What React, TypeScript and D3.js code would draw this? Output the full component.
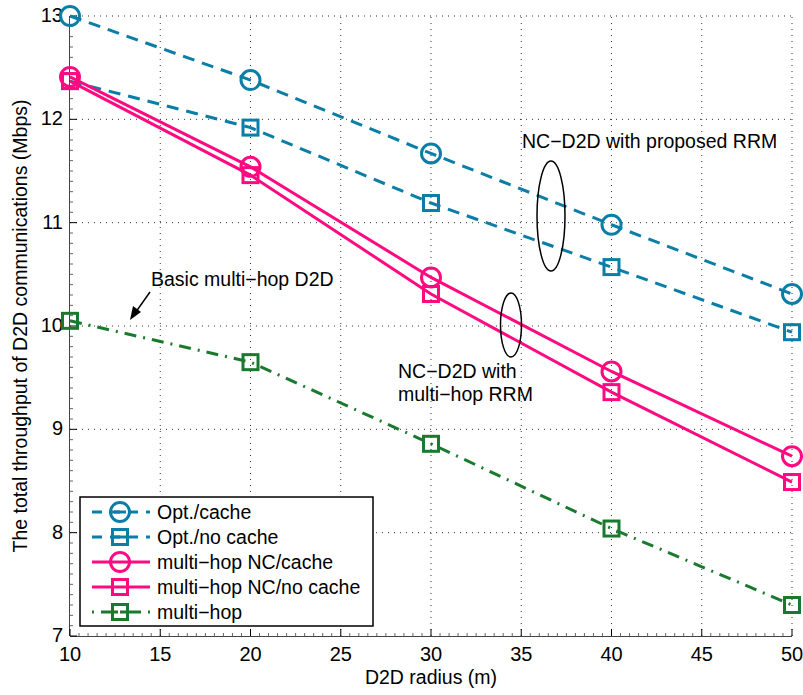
import React, { useEffect, useRef } from "react";
import * as d3 from "d3";

const radius = [10, 20, 30, 40, 50];
const optCache = [13.0, 12.38, 11.67, 10.98, 10.31];
const optNoCache = [12.37, 11.92, 11.19, 10.57, 9.94];
const nhCache = [12.41, 11.54, 10.47, 9.56, 8.74];
const nhNoCache = [12.37, 11.46, 10.31, 9.36, 8.49];
const multiHop = [10.05, 9.65, 8.86, 8.04, 7.3];
const xTicks = [10, 15, 20, 25, 30, 35, 40, 45, 50];
const yTicks = [7, 8, 9, 10, 11, 12, 13];

const BLUE = "#0a7ea6";
const PINK = "#ff0a80";
const GREEN = "#197a2e";

const series = [
  { name: "Opt./cache", values: optCache, color: BLUE, dash: "12,8", marker: "circle" },
  { name: "Opt./no cache", values: optNoCache, color: BLUE, dash: "12,8", marker: "square" },
  { name: "multi\u2212hop NC/cache", values: nhCache, color: PINK, dash: null, marker: "circle" },
  { name: "multi\u2212hop NC/no cache", values: nhNoCache, color: PINK, dash: null, marker: "square" },
  { name: "multi\u2212hop", values: multiHop, color: GREEN, dash: "12,7,2,7", marker: "square" },
];

const W = 803;
const H = 695;
const m = { left: 70, right: 11, top: 16, bottom: 59 };
const FONT = "Liberation Sans, Arial, sans-serif";
const FS = 19.5;

const App = () => {
  const ref = useRef(null);

  useEffect(() => {
    const svg = d3.select(ref.current);
    svg.selectAll("*").remove();
    const x = d3.scaleLinear().domain([10, 50]).range([m.left, W - m.right]);
    const y = d3.scaleLinear().domain([7, 13]).range([H - m.bottom, m.top]);

    // grid
    const grid = svg.append("g").attr("stroke", "#333").attr("stroke-width", 1).attr("stroke-dasharray", "1,5");
    xTicks.slice(1).forEach(t => {
      grid.append("line").attr("x1", x(t)).attr("x2", x(t)).attr("y1", y(7)).attr("y2", y(13));
    });
    yTicks.slice(1).forEach(t => {
      grid.append("line").attr("x1", x(10)).attr("x2", x(50)).attr("y1", y(t)).attr("y2", y(t));
    });

    // axes
    const ax = svg.append("g").attr("stroke", "#444").attr("stroke-width", 1);
    ax.append("line").attr("x1", x(10)).attr("x2", x(50)).attr("y1", y(7) + 0.5).attr("y2", y(7) + 0.5);
    ax.append("line").attr("x1", x(10) - 0.5).attr("x2", x(10) - 0.5).attr("y1", y(7)).attr("y2", y(13));
    d3.range(10, 50.01, 0.5).forEach(t => {
      const major = Math.abs(t % 5) < 1e-6;
      ax.append("line").attr("x1", x(t)).attr("x2", x(t)).attr("y1", y(7)).attr("y2", y(7) - (major ? 7 : 3))
        .attr("stroke", major ? "#000" : "#666");
    });
    d3.range(7, 13.001, 0.1).forEach(t => {
      const major = Math.abs(t - Math.round(t)) < 1e-6;
      ax.append("line").attr("x1", x(10)).attr("x2", x(10) + (major ? 7 : 3)).attr("y1", y(t)).attr("y2", y(t))
        .attr("stroke", major ? "#000" : "#666");
    });

    const txt = svg.append("g").attr("font-family", FONT).attr("fill", "#000");
    xTicks.forEach(t => {
      txt.append("text").attr("x", x(t)).attr("y", y(7) + 25).attr("text-anchor", "middle").attr("font-size", 20).text(t);
    });
    yTicks.forEach(t => {
      txt.append("text").attr("x", x(10) - 7).attr("y", y(t) + 6).attr("text-anchor", "end").attr("font-size", 20).text(t);
    });
    txt.append("text").attr("x", (x(10) + x(50)) / 2).attr("y", 684).attr("text-anchor", "middle").attr("font-size", FS).text("D2D radius (m)");
    txt.append("text").attr("transform", `translate(27, ${(y(7) + y(13)) / 2}) rotate(-90)`).attr("text-anchor", "middle").attr("font-size", FS)
      .text("The total throughput of D2D communications (Mbps)");

    const drawMarker = (g, type, cx, cy, color) => {
      if (type === "circle") {
        g.append("circle").attr("cx", cx).attr("cy", cy).attr("r", 9.5).attr("fill", "none").attr("stroke", color).attr("stroke-width", 3);
      } else {
        g.append("rect").attr("x", cx - 7.5).attr("y", cy - 7.5).attr("width", 15).attr("height", 15).attr("fill", "none").attr("stroke", color).attr("stroke-width", 3);
      }
    };

    // series
    const line = d3.line().x((d, i) => x(radius[i])).y(d => y(d));
    series.forEach(s => {
      const g = svg.append("g");
      g.append("path").attr("d", line(s.values)).attr("fill", "none").attr("stroke", s.color).attr("stroke-width", 3)
        .attr("stroke-dasharray", s.dash);
      s.values.forEach((v, i) => drawMarker(g, s.marker, x(radius[i]), y(v), s.color));
    });

    // annotations
    const ann = svg.append("g").attr("font-family", FONT).attr("font-size", FS).attr("fill", "#000");
    ann.append("text").attr("x", 522).attr("y", 148).text("NC\u2212D2D with proposed RRM");
    ann.append("text").attr("x", 151).attr("y", 286).text("Basic multi\u2212hop D2D");
    ann.append("text").attr("x", 398).attr("y", 378).text("NC\u2212D2D with");
    ann.append("text").attr("x", 398).attr("y", 401).text("multi\u2212hop RRM");
    svg.append("ellipse").attr("cx", 551).attr("cy", 216).attr("rx", 14).attr("ry", 55).attr("fill", "none").attr("stroke", "#000").attr("stroke-width", 1.5);
    svg.append("ellipse").attr("cx", 511).attr("cy", 325).attr("rx", 10.5).attr("ry", 32).attr("fill", "none").attr("stroke", "#000").attr("stroke-width", 1.5);
    // arrow
    svg.append("line").attr("x1", 150).attr("y1", 292).attr("x2", 133).attr("y2", 316).attr("stroke", "#000").attr("stroke-width", 1.5);
    svg.append("path").attr("d", "M130,320 L133,306 L141,312 Z").attr("fill", "#000");

    // legend
    const lg = svg.append("g");
    lg.append("rect").attr("x", 80).attr("y", 497).attr("width", 293).attr("height", 129).attr("fill", "#fff").attr("stroke", "#000").attr("stroke-width", 1.5);
    series.forEach((s, i) => {
      const cy = 512 + i * 25;
      lg.append("line").attr("x1", 92).attr("x2", 150).attr("y1", cy).attr("y2", cy).attr("stroke", s.color).attr("stroke-width", 3)
        .attr("stroke-dasharray", s.dash ? (s.color === GREEN ? "2,7,12,7" : "10,8") : null);
      drawMarker(lg, s.marker, 120, cy, s.color);
      if (s.dash) {
        lg.append("line").attr("x1", 114).attr("x2", 126).attr("y1", cy).attr("y2", cy).attr("stroke", s.color).attr("stroke-width", 3)
          .attr("stroke-dasharray", s.color === GREEN ? "4,4" : null);
      }
      lg.append("text").attr("x", 157).attr("y", cy + 7).attr("font-family", FONT).attr("font-size", FS).text(s.name);
    });
  }, []);

  return (
    <svg ref={ref} width={W} height={H} style={{ display: "block", position: "absolute", left: 0, top: 0, background: "#fff" }} />
  );
};

export default App;
